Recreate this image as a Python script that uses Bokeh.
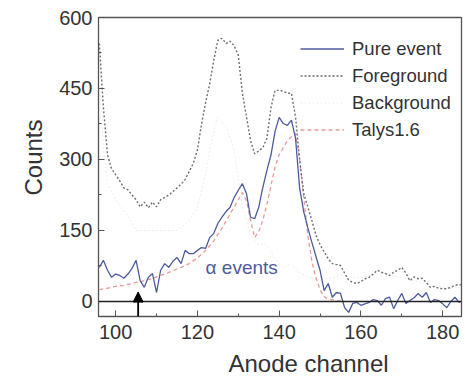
from bokeh.plotting import figure
from bokeh.models import Range1d, Span, Arrow, NormalHead, Legend, LegendItem, FixedTicker, Title
from bokeh.embed import file_html
from bokeh.resources import INLINE
from bokeh.core.properties import value

# ---- data ----
pure_x = list(range(96, 186))
pure_y = [72, 87, 66, 51, 58, 55, 49, 58, 70, 87, 44, 30, 51, 59, 19, 66, 80, 72, 85, 93,
          80, 108, 101, 101, 108, 114, 112, 135, 144, 165, 178, 190, 199, 220, 235, 249, 228, 178, 175, 199,
          241, 277, 310, 360, 389, 376, 372, 383, 345, 240, 190, 156, 125, 95, 66, 23, 38, 9, 19, 17,
          -13, -23, -4, -2, -8, -5, -2, 4, 2, -8, 6, 9, -15, 2, 17, -4, 2, 8, 17, 9,
          19, -2, 4, 2, -5, -13, 0, 9, -2, 3]

fg_x = list(range(96, 186))
fg_y = [545, 410, 310, 280, 268, 255, 240, 236, 225, 215, 200, 210, 198, 210, 200, 215, 220, 225, 232, 240,
        248, 258, 275, 292, 320, 375, 420, 460, 510, 552, 556, 545, 550, 540, 520, 440, 390, 340, 312, 318,
        325, 345, 410, 446, 446, 444, 440, 440, 390, 300, 228, 200, 171, 140, 120, 105, 90, 80, 78, 76,
        60, 45, 40, 38, 42, 48, 51, 58, 66, 62, 59, 55, 62, 66, 72, 60, 44, 52, 48, 49,
        40, 30, 32, 28, 27, 27, 30, 34, 36, 34]

bg_x = [96, 97, 98, 100, 103, 105, 110, 115, 118, 120, 122, 123, 125, 127, 129, 131, 133, 135, 137, 139,
        141, 143, 145, 148, 150, 155, 160, 165, 170, 175, 180, 185]
bg_y = [470, 330, 250, 215, 180, 150, 150, 150, 170, 200, 270, 320, 390, 370, 320, 200, 140, 120, 120, 90,
        70, 80, 60, 50, 45, 55, 50, 60, 50, 40, 30, 30]

talys_x = [96, 98, 100, 102, 104, 106, 108, 110, 112, 114, 116, 118, 120, 122, 124, 126, 128, 130, 131, 132,
           133, 134, 135, 136, 137, 138, 139, 140, 141, 142, 143, 144, 145, 146, 147, 148, 149, 150, 151, 152,
           154, 156]
talys_y = [25, 28, 32, 34, 38, 42, 46, 52, 58, 65, 72, 80, 92, 108, 128, 155, 185, 215, 230, 213,
           171, 135, 148, 172, 205, 245, 285, 310, 325, 340, 348, 355, 300, 220, 140, 85, 50, 25, 10, 5,
           2, 0]

x_ticks = [100, 120, 140, 160, 180]
y_ticks = [0, 150, 300, 450, 600]
legend_labels = ["Pure event", "Foreground", "Background", "Talys1.6"]
x_title = "Anode channel"
y_title = "Counts"
arrow_channel = 105.5
annotation = "\u03b1 events"

FONT = "Liberation Sans"
TXT = "#333333"

p = figure(width=465, height=390, output_backend="svg", toolbar_location=None,
           x_range=Range1d(95.8, 184.6), y_range=Range1d(-31.7, 600),
           min_border_left=98, min_border_right=4, min_border_top=17, min_border_bottom=74)
p.grid.visible = False
p.background_fill_color = "white"
p.outline_line_color = "#555555"
p.outline_line_width = 1.3

r_bg = p.line(bg_x, bg_y, line_color="#f0ebeb", line_width=1.0, line_dash="2 2")
r_talys = p.line(talys_x, talys_y, line_color="#e89a9a", line_width=1.3, line_dash="4 3")
r_fg = p.line(fg_x, fg_y, line_color="#6e6e6e", line_width=1.4, line_dash="2 2")
r_pure = p.line(pure_x, pure_y, line_color="#4d5b9e", line_width=1.3)

p.add_layout(Span(location=0, dimension="width", line_color="#222222", line_width=1.3))
p.add_layout(Arrow(end=NormalHead(size=10, fill_color="black", line_color="black"),
                   x_start=arrow_channel, y_start=-31.7, x_end=arrow_channel, y_end=20,
                   line_color="black", line_width=1.8))

p.text(x=[122], y=[72], text=[annotation], text_font=value(FONT), text_font_size="19px",
       text_color="#4d5b9e", text_baseline="middle", text_align="left")

for ax in (p.xaxis[0], p.yaxis[0]):
    ax.major_label_text_font = FONT
    ax.major_label_text_font_size = "20px"
    ax.major_label_text_color = TXT
    ax.major_tick_in = 6
    ax.major_tick_out = 0
    ax.minor_tick_in = 3
    ax.minor_tick_out = 0
    ax.axis_line_color = "#555555"
    ax.major_tick_line_color = "#555555"
    ax.minor_tick_line_color = "#555555"

p.xaxis.ticker = FixedTicker(ticks=x_ticks, minor_ticks=[110, 130, 150, 170])
p.yaxis.ticker = FixedTicker(ticks=y_ticks, minor_ticks=[75, 225, 375, 525])
p.xaxis.major_label_standoff = 8
p.yaxis.major_label_standoff = 6

p.add_layout(Title(text=x_title, align="left", offset=130, standoff=12, vertical_align="bottom",
                   text_baseline="middle",
                   text_font=FONT, text_font_size="24px", text_color=TXT,
                   text_font_style="normal"), "below")
p.add_layout(Title(text=y_title, align="left", offset=121, standoff=20,
                   text_font=FONT, text_font_size="24px", text_color=TXT,
                   text_font_style="normal"), "left")

legend = Legend(items=[LegendItem(label=legend_labels[0], renderers=[r_pure]),
                       LegendItem(label=legend_labels[1], renderers=[r_fg]),
                       LegendItem(label=legend_labels[2], renderers=[r_bg]),
                       LegendItem(label=legend_labels[3], renderers=[r_talys])],
                location=(202, 173), border_line_color=None, background_fill_alpha=0,
                label_text_font=FONT, label_text_font_size="18.5px", label_text_color=TXT,
                glyph_width=44, glyph_height=27, label_height=27, spacing=0, padding=2,
                label_standoff=8, margin=0)
p.add_layout(legend)

open("out.html", "w").write(file_html(p, INLINE))
